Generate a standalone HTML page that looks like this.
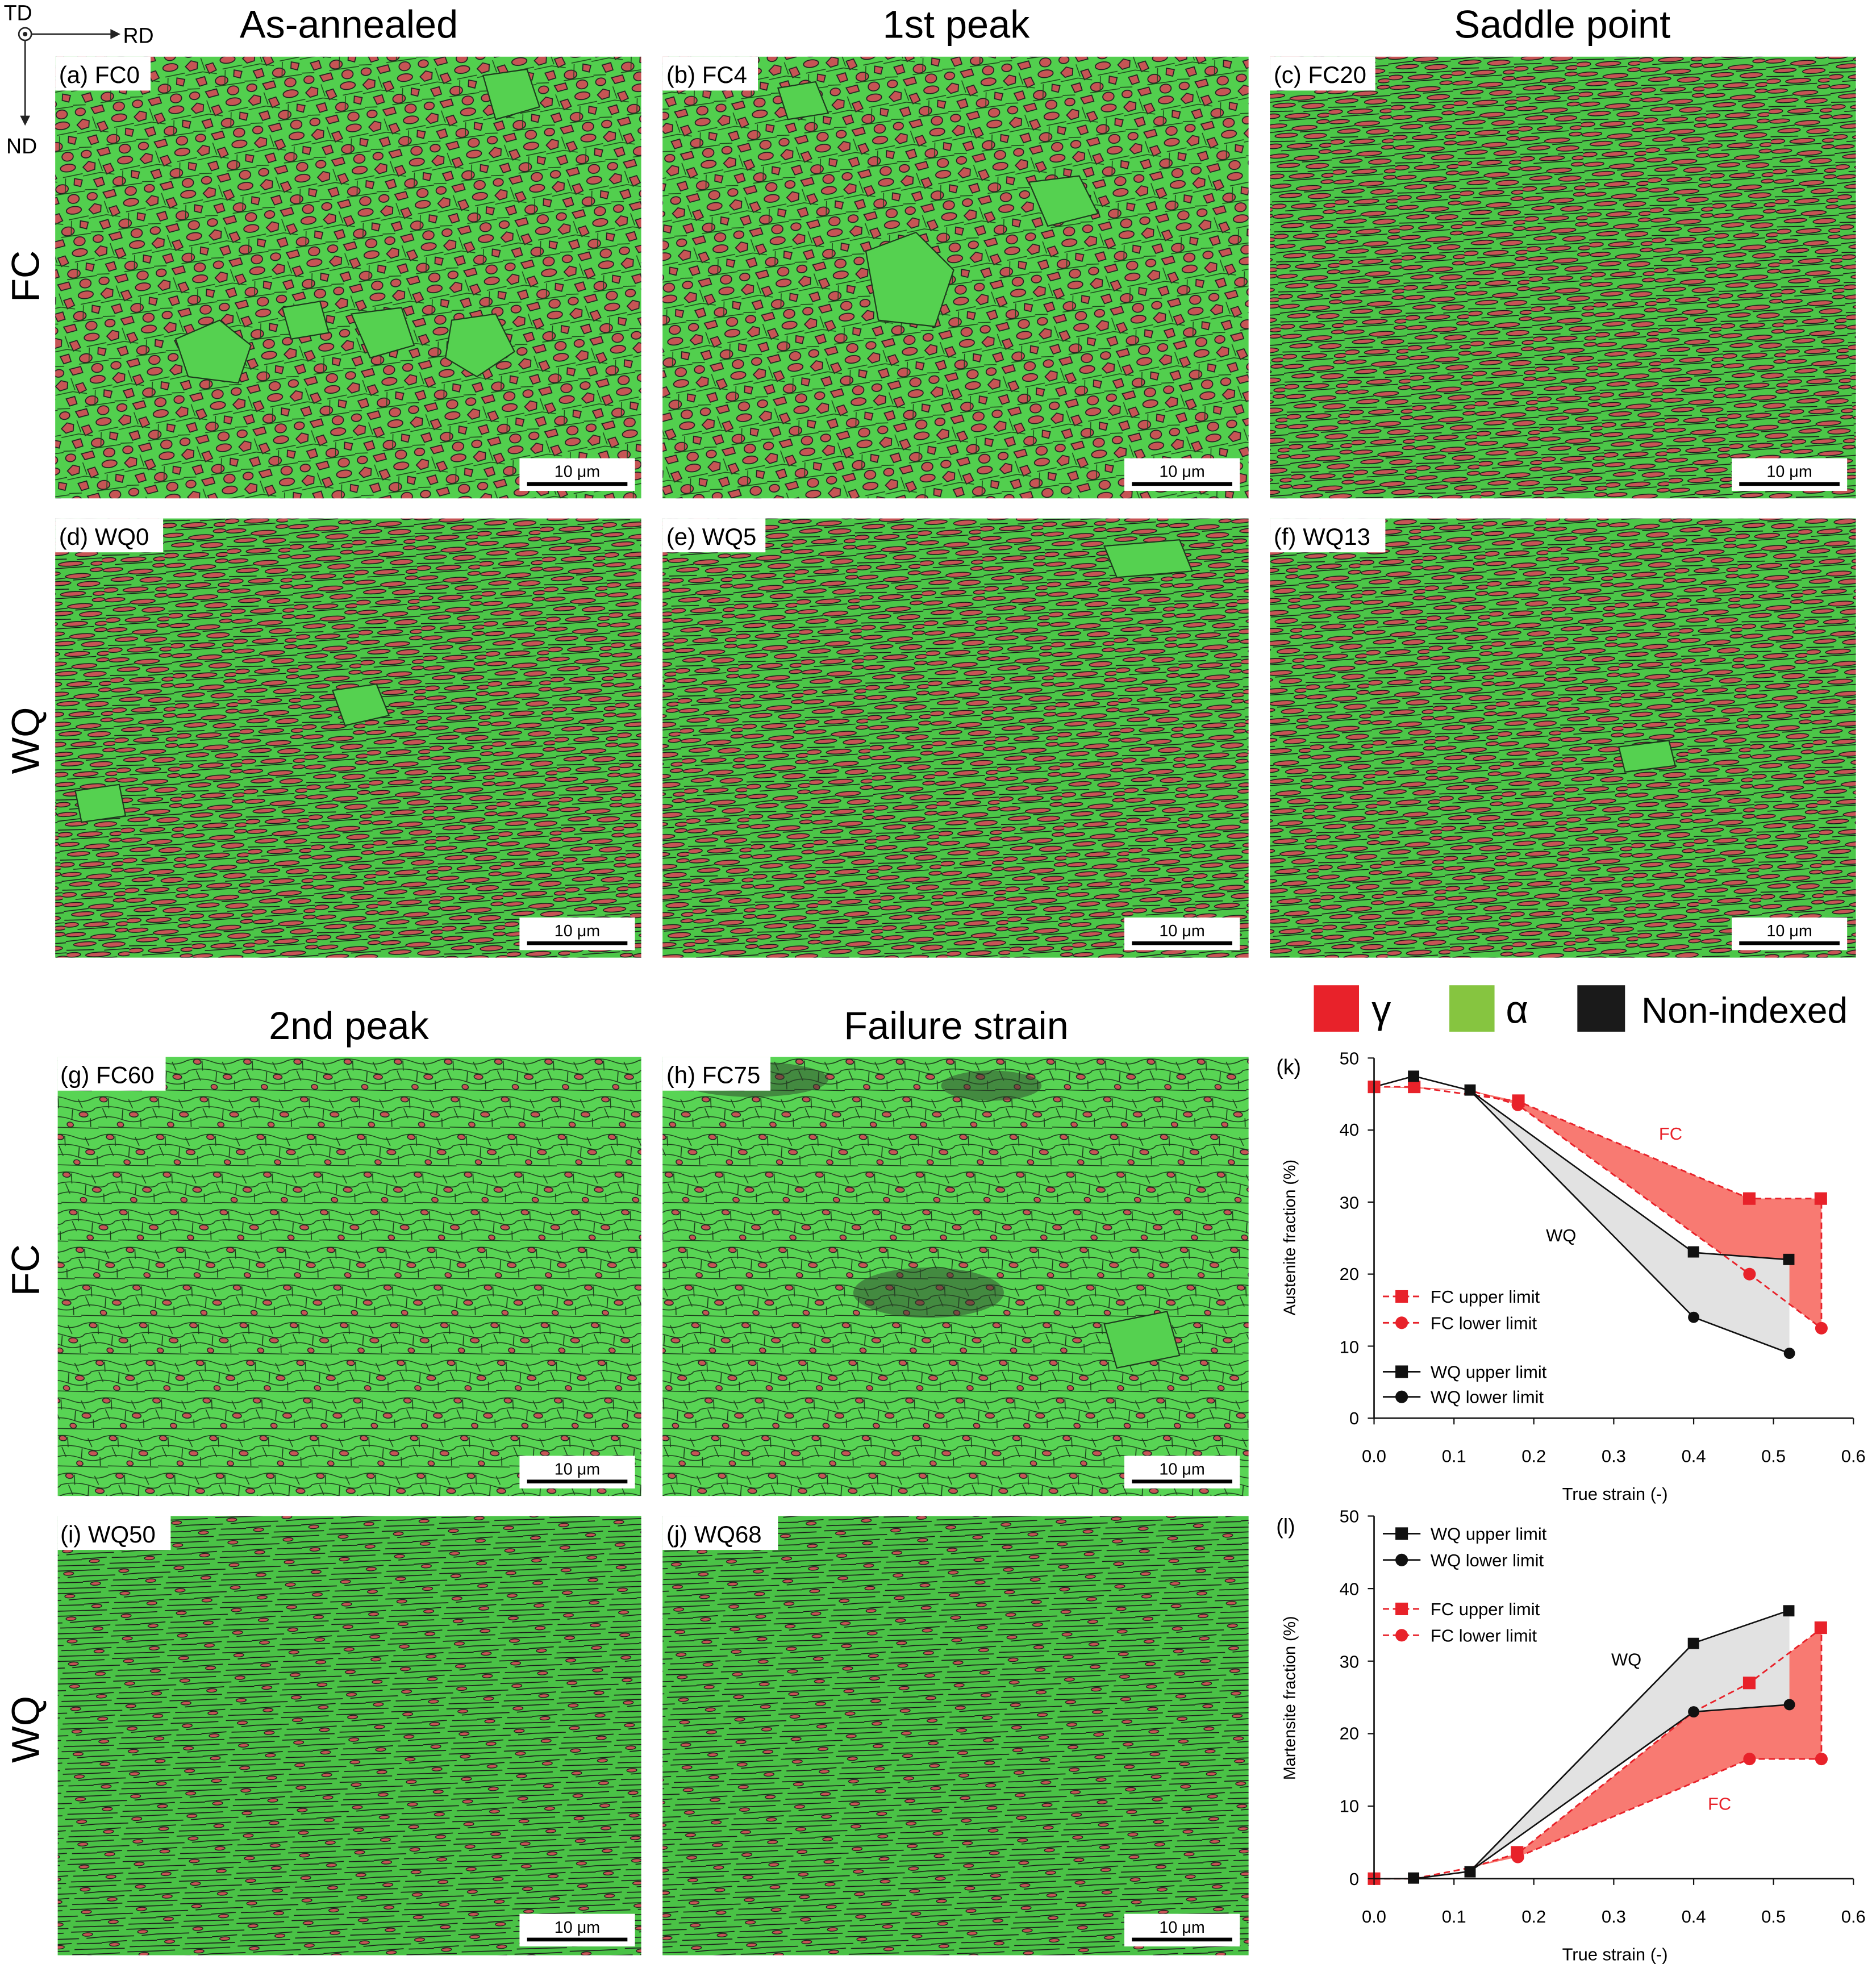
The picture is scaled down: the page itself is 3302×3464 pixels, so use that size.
<!DOCTYPE html>
<html><head><meta charset="utf-8"><style>
html,body{margin:0;padding:0;background:#fff}
svg{display:block}
text{font-family:"Liberation Sans",sans-serif}
</style></head><body>
<svg width="3302" height="3464" viewBox="0 0 1495 1568" xmlns="http://www.w3.org/2000/svg">
<defs>
<pattern id="pA" width="46" height="34" patternUnits="userSpaceOnUse" patternTransform="rotate(-8)">
<rect width="46" height="34" fill="#52cf4e"/>
<g fill="#c65555" stroke="#222" stroke-width="0.8">
<path d="M1 5 L6 1 L11 3 L10 8 L4 9Z"/><path d="M17 6 L23 5 L25 11 L19 13Z"/><ellipse cx="35" cy="4" rx="6" ry="3"/>
<path d="M8 16 L15 15 L16 21 L10 22Z"/><ellipse cx="28" cy="20" rx="5" ry="3.5"/><path d="M39 13 L45 15 L43 20 L38 18Z"/>
<ellipse cx="5" cy="29" rx="4" ry="3"/><path d="M14 27 L23 26 L24 31 L16 32Z"/><ellipse cx="36" cy="29" rx="4.5" ry="3.5"/>
</g>
<g fill="none" stroke="#1e4a1e" stroke-width="0.7"><path d="M0 12 L14 11 L25 14 M30 11 L46 10 M0 23 L10 24 M22 24 L46 24 M14 0 L16 10 M32 12 L30 24"/></g>
</pattern>
<pattern id="pW" width="50" height="24" patternUnits="userSpaceOnUse" patternTransform="rotate(-4)">
<rect width="50" height="24" fill="#4cc648"/>
<g fill="#c65555" stroke="#1a1a1a" stroke-width="0.7">
<ellipse cx="8" cy="3" rx="8" ry="1.6"/><ellipse cx="30" cy="6" rx="10" ry="1.8"/><ellipse cx="45" cy="2" rx="5" ry="1.5"/>
<ellipse cx="15" cy="11" rx="9" ry="1.7"/><ellipse cx="38" cy="13" rx="9" ry="2"/>
<ellipse cx="5" cy="19" rx="6" ry="1.8"/><ellipse cx="25" cy="20" rx="10" ry="1.8"/><ellipse cx="46" cy="21" rx="5" ry="1.6"/>
</g>
<g stroke="#1a1a1a" stroke-width="0.7"><path d="M0 8 L20 7 M26 9 L50 9 M0 15 L22 16 M30 17 L50 17 M10 23 L40 23"/></g>
</pattern>
<pattern id="pF" width="40" height="30" patternUnits="userSpaceOnUse" patternTransform="skewX(10)">
<rect width="40" height="30" fill="#58d454"/>
<g fill="#c65555" stroke="#222" stroke-width="0.7">
<ellipse cx="8" cy="6" rx="3" ry="2"/><ellipse cx="30" cy="18" rx="3.5" ry="2"/><ellipse cx="18" cy="26" rx="2.5" ry="2"/>
</g>
<g fill="none" stroke="#1c3d1c" stroke-width="0.7"><path d="M0 5 Q10 2 20 6 T40 5 M0 13 Q12 10 24 14 T40 13 M0 21 Q10 18 20 22 T40 21 M0 28 L40 29 M12 5 L11 13 M28 6 L30 13 M6 13 L8 21 M22 14 L20 22 M35 21 L34 28"/></g>
</pattern>
<pattern id="pG" width="44" height="18" patternUnits="userSpaceOnUse" patternTransform="rotate(-3)">
<rect width="44" height="18" fill="#4ac246"/>
<g fill="#c65555" stroke="#1a1a1a" stroke-width="0.6"><ellipse cx="10" cy="4" rx="4" ry="1.4"/><ellipse cx="33" cy="13" rx="4" ry="1.4"/></g>
<g stroke="#1a1a1a" stroke-width="0.7"><path d="M0 2 L20 1.5 M24 2 L44 2.5 M0 7 L18 7.5 M22 6.5 L44 7 M0 11 L14 11 M20 10.5 L44 11 M0 15.5 L26 16 M32 16 L44 15.5"/></g>
</pattern>
</defs>
<rect width="1495" height="1568" fill="#fff"/>

<circle cx="20" cy="27" r="5" fill="none" stroke="#222" stroke-width="1.2"/><circle cx="20" cy="27" r="1.8" fill="#222"/>
<line x1="25" y1="27" x2="90" y2="27" stroke="#222" stroke-width="1.2"/><path d="M96 27 L88 23 L88 31Z" fill="#222"/>
<line x1="20" y1="32" x2="20" y2="94" stroke="#222" stroke-width="1.2"/><path d="M20 100 L16 92 L24 92Z" fill="#222"/>
<text x="3" y="16" font-size="17">TD</text><text x="98" y="34" font-size="17">RD</text><text x="5" y="122" font-size="17">ND</text>

<g font-size="31" text-anchor="middle">
<text x="278" y="30">As-annealed</text><text x="762" y="30">1st peak</text><text x="1245" y="30">Saddle point</text>
<text x="278" y="828">2nd peak</text><text x="762" y="828">Failure strain</text>
</g>
<g font-size="31" text-anchor="middle">
<text transform="translate(31,220) rotate(-90)">FC</text>
<text transform="translate(31,590) rotate(-90)">WQ</text>
<text transform="translate(31,1012) rotate(-90)">FC</text>
<text transform="translate(31,1378) rotate(-90)">WQ</text>
</g>

<rect x="44" y="45" width="467" height="352" fill="url(#pA)"/>
<rect x="528" y="45" width="467" height="352" fill="url(#pA)"/>
<rect x="1012" y="45" width="467" height="352" fill="url(#pW)"/>
<rect x="44" y="413" width="467" height="350" fill="url(#pW)"/>
<rect x="528" y="413" width="467" height="350" fill="url(#pW)"/>
<rect x="1012" y="413" width="467" height="350" fill="url(#pW)"/>
<rect x="46" y="842" width="465" height="350" fill="url(#pF)"/>
<rect x="528" y="842" width="467" height="350" fill="url(#pF)"/>
<rect x="46" y="1208" width="465" height="350" fill="url(#pG)"/>
<rect x="528" y="1208" width="467" height="350" fill="url(#pG)"/>

<!-- large green grains -->
<g fill="#55d150" stroke="#1e3a1e" stroke-width="1">
<path d="M140 270 L175 255 L200 275 L190 305 L150 300Z"/>
<path d="M360 255 L395 250 L410 280 L380 300 L355 285Z"/>
<path d="M225 245 L255 240 L262 265 L232 270Z"/>
<path d="M280 250 L320 245 L330 275 L295 285Z"/>
<path d="M385 60 L420 55 L430 85 L395 95Z"/>
<path d="M690 200 L730 185 L760 215 L745 260 L700 255Z"/>
<path d="M820 145 L860 140 L875 170 L835 180Z"/>
<path d="M620 70 L650 65 L660 90 L628 95Z"/>
<path d="M265 550 L300 545 L310 570 L275 578Z"/>
<path d="M60 630 L95 625 L100 650 L65 655Z"/>
<path d="M880 435 L940 430 L950 455 L890 460Z"/>
<path d="M1290 595 L1330 590 L1335 610 L1295 615Z"/>
<path d="M880 1055 L930 1045 L940 1080 L890 1090Z"/>
</g>
<g fill="#2d3f2b" opacity="0.5"><ellipse cx="600" cy="860" rx="60" ry="14"/><ellipse cx="790" cy="865" rx="40" ry="12"/><ellipse cx="740" cy="1030" rx="60" ry="20"/></g>

<g font-size="19">
<rect x="44" y="45" width="76" height="27" fill="#fff"/><text x="47" y="66">(a) FC0</text>
<rect x="528" y="45" width="76" height="27" fill="#fff"/><text x="531" y="66">(b) FC4</text>
<rect x="1012" y="45" width="84" height="27" fill="#fff"/><text x="1015" y="66">(c) FC20</text>
<rect x="44" y="413" width="86" height="27" fill="#fff"/><text x="47" y="434">(d) WQ0</text>
<rect x="528" y="413" width="82" height="27" fill="#fff"/><text x="531" y="434">(e) WQ5</text>
<rect x="1012" y="413" width="92" height="27" fill="#fff"/><text x="1015" y="434">(f) WQ13</text>
<rect x="46" y="842" width="86" height="27" fill="#fff"/><text x="48" y="863">(g) FC60</text>
<rect x="528" y="842" width="86" height="27" fill="#fff"/><text x="531" y="863">(h) FC75</text>
<rect x="46" y="1208" width="90" height="27" fill="#fff"/><text x="48" y="1229">(i) WQ50</text>
<rect x="528" y="1208" width="92" height="27" fill="#fff"/><text x="531" y="1229">(j) WQ68</text>
</g>

<g font-size="13" text-anchor="middle">
<g transform="translate(414,365)"><rect width="92" height="26" fill="#fff"/><text x="46" y="15">10 μm</text><rect x="6" y="19" width="80" height="3" fill="#000"/></g>
<g transform="translate(896,365)"><rect width="92" height="26" fill="#fff"/><text x="46" y="15">10 μm</text><rect x="6" y="19" width="80" height="3" fill="#000"/></g>
<g transform="translate(1380,365)"><rect width="92" height="26" fill="#fff"/><text x="46" y="15">10 μm</text><rect x="6" y="19" width="80" height="3" fill="#000"/></g>
<g transform="translate(414,731)"><rect width="92" height="26" fill="#fff"/><text x="46" y="15">10 μm</text><rect x="6" y="19" width="80" height="3" fill="#000"/></g>
<g transform="translate(896,731)"><rect width="92" height="26" fill="#fff"/><text x="46" y="15">10 μm</text><rect x="6" y="19" width="80" height="3" fill="#000"/></g>
<g transform="translate(1380,731)"><rect width="92" height="26" fill="#fff"/><text x="46" y="15">10 μm</text><rect x="6" y="19" width="80" height="3" fill="#000"/></g>
<g transform="translate(414,1160)"><rect width="92" height="26" fill="#fff"/><text x="46" y="15">10 μm</text><rect x="6" y="19" width="80" height="3" fill="#000"/></g>
<g transform="translate(896,1160)"><rect width="92" height="26" fill="#fff"/><text x="46" y="15">10 μm</text><rect x="6" y="19" width="80" height="3" fill="#000"/></g>
<g transform="translate(414,1525)"><rect width="92" height="26" fill="#fff"/><text x="46" y="15">10 μm</text><rect x="6" y="19" width="80" height="3" fill="#000"/></g>
<g transform="translate(896,1525)"><rect width="92" height="26" fill="#fff"/><text x="46" y="15">10 μm</text><rect x="6" y="19" width="80" height="3" fill="#000"/></g>
</g>

<rect x="1047" y="785" width="36" height="37" fill="#e8222a"/><text x="1093" y="815" font-size="31">γ</text>
<rect x="1155" y="785" width="36" height="37" fill="#86c540"/><text x="1200" y="815" font-size="31">α</text>
<rect x="1257" y="785" width="38" height="37" fill="#1a1a1a"/><text x="1308" y="815" font-size="29">Non-indexed</text>

<g font-size="14">
<text x="1017" y="856" font-size="17">(k)</text>
<polygon points="1095,866 1126.8,866 1171.4,868.8 1209.6,877.4 1394.2,955 1451.5,955 1451.5,1058.3 1394.2,1015.2 1209.6,880.3 1171.4,868.8" fill="#f87a72"/>
<polygon points="1171.4,868.8 1349.7,998 1426,1003.7 1426,1078.3 1349.7,1049.6" fill="#e2e2e2"/>
<path d="M1095 866 L1126.8 866 L1209.6 877.4 L1394.2 955 L1451.5 955 L1451.5 1058.3 L1394.2 1015.2 L1209.6 880.3 L1171.4 868.8" fill="none" stroke="#e8222a" stroke-width="1.3" stroke-dasharray="5,3"/>
<path d="M1095 866 L1126.8 857.4 L1171.4 868.8 L1349.7 998 L1426 1003.7 M1171.4 868.8 L1349.7 1049.6 L1426 1078.3" fill="none" stroke="#111" stroke-width="1.2"/>
<g fill="#e8222a"><rect x="1090" y="861" width="10" height="10"/><rect x="1122" y="861" width="10" height="10"/><rect x="1205" y="872" width="10" height="10"/><rect x="1389" y="950" width="10" height="10"/><rect x="1446" y="950" width="10" height="10"/>
<circle cx="1209.6" cy="880.3" r="5"/><circle cx="1394.2" cy="1015.2" r="5"/><circle cx="1451.5" cy="1058.3" r="5"/></g>
<g fill="#111"><rect x="1122" y="853" width="9" height="9"/><rect x="1167" y="864" width="9" height="9"/><rect x="1345" y="993" width="9" height="9"/><rect x="1421" y="999" width="9" height="9"/>
<circle cx="1349.7" cy="1049.6" r="4.5"/><circle cx="1426" cy="1078.3" r="4.5"/></g>
<path d="M1095 843 L1095 1130 L1477 1130" fill="none" stroke="#111" stroke-width="1.2"/>
<g stroke="#111"><path d="M1095 843h-5M1095 900.4h-5M1095 957.8h-5M1095 1015.2h-5M1095 1072.6h-5M1095 1130h-5M1095 1130v5M1158.7 1130v5M1222.3 1130v5M1286 1130v5M1349.7 1130v5M1413.3 1130v5M1477 1130v5"/></g>
<g text-anchor="end"><text x="1083" y="848">50</text><text x="1083" y="905">40</text><text x="1083" y="963">30</text><text x="1083" y="1020">20</text><text x="1083" y="1078">10</text><text x="1083" y="1135">0</text></g>
<g text-anchor="middle"><text x="1095" y="1165">0.0</text><text x="1158.7" y="1165">0.1</text><text x="1222.3" y="1165">0.2</text><text x="1286" y="1165">0.3</text><text x="1349.7" y="1165">0.4</text><text x="1413.3" y="1165">0.5</text><text x="1477" y="1165">0.6</text>
<text x="1287" y="1195">True strain (-)</text>
<text transform="translate(1032,986) rotate(-90)" font-size="13">Austenite fraction (%)</text></g>
<text x="1322" y="908" fill="#e8222a">FC</text><text x="1232" y="989">WQ</text>
<path d="M1102 1033h30" stroke="#e8222a" stroke-dasharray="5,3" stroke-width="1.3"/><rect x="1112" y="1028" width="10" height="10" fill="#e8222a"/><text x="1140" y="1038">FC upper limit</text>
<path d="M1102 1054h30" stroke="#e8222a" stroke-dasharray="5,3" stroke-width="1.3"/><circle cx="1117" cy="1054" r="5" fill="#e8222a"/><text x="1140" y="1059">FC lower limit</text>
<path d="M1102 1093h30" stroke="#111" stroke-width="1.3"/><rect x="1112" y="1088" width="10" height="10" fill="#111"/><text x="1140" y="1098">WQ upper limit</text>
<path d="M1102 1113h30" stroke="#111" stroke-width="1.3"/><circle cx="1117" cy="1113" r="5" fill="#111"/><text x="1140" y="1118">WQ lower limit</text>
</g>

<g font-size="14">
<text x="1017" y="1222" font-size="17">(l)</text>
<polygon points="1171.4,1488.3 1209.6,1476.8 1349.7,1364 1394.2,1341 1451.5,1297.6 1451.5,1401.6 1394.2,1401.6 1209.6,1479.7" fill="#f87a72"/>
<polygon points="1171.4,1491.2 1349.7,1309.2 1426,1283.1 1426,1358.3 1349.7,1364" fill="#e2e2e2"/>
<path d="M1095 1497 L1126.8 1497 L1171.4 1488.3 L1209.6 1476.8 L1349.7 1364 L1394.2 1341 L1451.5 1297.6 L1451.5 1401.6 L1394.2 1401.6 L1209.6 1479.7" fill="none" stroke="#e8222a" stroke-width="1.3" stroke-dasharray="5,3"/>
<path d="M1126.8 1497 L1171.4 1491.2 L1349.7 1309.2 L1426 1283.1 M1171.4 1491.2 L1349.7 1364 L1426 1358.3" fill="none" stroke="#111" stroke-width="1.2"/>
<g fill="#e8222a"><rect x="1090" y="1492" width="10" height="10"/><rect x="1204" y="1471" width="10" height="10"/><rect x="1389" y="1336" width="10" height="10"/><rect x="1446" y="1292" width="10" height="10"/>
<circle cx="1209.6" cy="1479.7" r="5"/><circle cx="1394.2" cy="1401.6" r="5"/><circle cx="1451.5" cy="1401.6" r="5"/></g>
<g fill="#111"><rect x="1122" y="1492" width="9" height="9"/><rect x="1167" y="1487" width="9" height="9"/><rect x="1345" y="1305" width="9" height="9"/><rect x="1421" y="1279" width="9" height="9"/>
<circle cx="1349.7" cy="1364" r="4.5"/><circle cx="1426" cy="1358.3" r="4.5"/></g>
<path d="M1095 1208 L1095 1497 L1477 1497" fill="none" stroke="#111" stroke-width="1.2"/>
<g stroke="#111"><path d="M1095 1208h-5M1095 1265.8h-5M1095 1323.6h-5M1095 1381.4h-5M1095 1439.2h-5M1095 1497h-5M1095 1497v5M1158.7 1497v5M1222.3 1497v5M1286 1497v5M1349.7 1497v5M1413.3 1497v5M1477 1497v5"/></g>
<g text-anchor="end"><text x="1083" y="1213">50</text><text x="1083" y="1271">40</text><text x="1083" y="1329">30</text><text x="1083" y="1386">20</text><text x="1083" y="1444">10</text><text x="1083" y="1502">0</text></g>
<g text-anchor="middle"><text x="1095" y="1532">0.0</text><text x="1158.7" y="1532">0.1</text><text x="1222.3" y="1532">0.2</text><text x="1286" y="1532">0.3</text><text x="1349.7" y="1532">0.4</text><text x="1413.3" y="1532">0.5</text><text x="1477" y="1532">0.6</text>
<text x="1287" y="1562">True strain (-)</text>
<text transform="translate(1032,1353) rotate(-90)" font-size="13">Martensite fraction (%)</text></g>
<text x="1284" y="1327">WQ</text><text x="1361" y="1442" fill="#e8222a">FC</text>
<path d="M1102 1222h30" stroke="#111" stroke-width="1.3"/><rect x="1112" y="1217" width="10" height="10" fill="#111"/><text x="1140" y="1227">WQ upper limit</text>
<path d="M1102 1243h30" stroke="#111" stroke-width="1.3"/><circle cx="1117" cy="1243" r="5" fill="#111"/><text x="1140" y="1248">WQ lower limit</text>
<path d="M1102 1282h30" stroke="#e8222a" stroke-dasharray="5,3" stroke-width="1.3"/><rect x="1112" y="1277" width="10" height="10" fill="#e8222a"/><text x="1140" y="1287">FC upper limit</text>
<path d="M1102 1303h30" stroke="#e8222a" stroke-dasharray="5,3" stroke-width="1.3"/><circle cx="1117" cy="1303" r="5" fill="#e8222a"/><text x="1140" y="1308">FC lower limit</text>
</g>
</svg>
</body></html>
